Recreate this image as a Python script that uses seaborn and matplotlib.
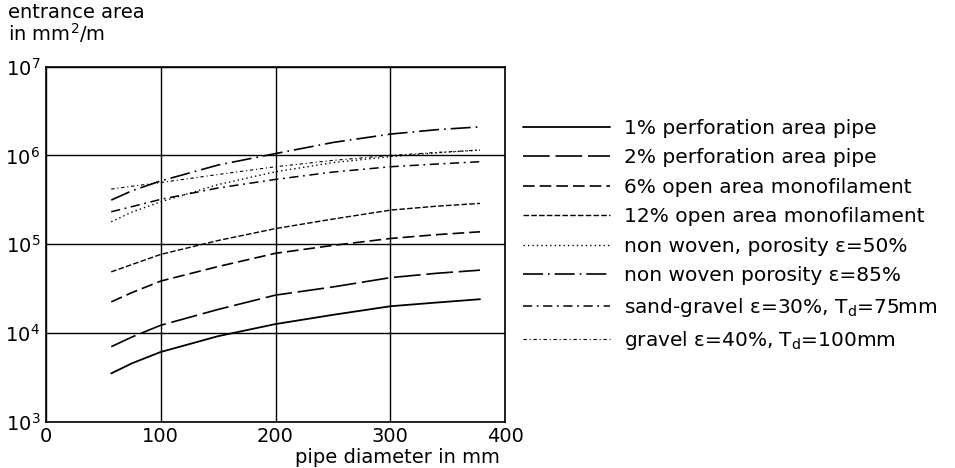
import numpy as np
import pandas as pd
import matplotlib
matplotlib.use("Agg")
import matplotlib.pyplot as plt
import seaborn as sns

# pipe diameter in mm
diameter = [57, 75, 100, 150, 200, 250, 300, 340, 378]

# entrance area in mm2/m per material
perf_1 = [3500, 4550, 6100, 9200, 12600, 16000, 20000, 22000, 24000]
perf_2 = [7000, 9000, 12200, 18400, 26700, 33000, 42000, 47000, 51000]
mono_6 = [22400, 28500, 38400, 56000, 79000, 97000, 116000, 128000, 138000]
mono_12 = [48800, 59000, 76700, 110000, 150000, 192000, 242000, 268000, 288000]
nonwoven_50 = [179000, 230000, 300000, 470000, 655000, 830000, 970000, 1070000, 1150000]
nonwoven_85 = [314000, 400000, 516000, 780000, 1050000, 1400000, 1740000, 1950000, 2100000]
sand_gravel = [232000, 265000, 320000, 430000, 537000, 650000, 746000, 800000, 850000]
gravel = [418000, 450000, 495000, 610000, 746000, 880000, 1000000, 1080000, 1150000]

labels = [
    "1% perforation area pipe",
    "2% perforation area pipe",
    "6% open area monofilament",
    "12% open area monofilament",
    "non woven, porosity \u03b5=50%",
    "non woven porosity \u03b5=85%",
    "sand-gravel \u03b5=30%, T$_\\mathregular{d}$=75mm",
    "gravel \u03b5=40%, T$_\\mathregular{d}$=100mm",
]
series = [perf_1, perf_2, mono_6, mono_12, nonwoven_50, nonwoven_85, sand_gravel, gravel]

# line styles: (linestyle, linewidth)
styles = [
    ("-", 1.3),
    ((0, (16, 3.5)), 1.2),
    ((0, (7, 3)), 1.2),
    ((0, (4, 1.6)), 1.0),
    ((0, (1, 2.2)), 1.0),
    ((0, (12, 3, 1, 3)), 1.2),
    ((0, (6, 3, 1.2, 3)), 1.1),
    ((0, (3, 2.5, 1, 2.5)), 0.8),
]

sns.set_theme(style="white")
plt.rcParams["font.family"] = ["DejaVu Sans"]
plt.rcParams["mathtext.default"] = "regular"
plt.rcParams["text.color"] = "black"

fig = plt.figure(figsize=(9.55, 4.68), dpi=100)
ax = fig.add_axes([0.0479, 0.0989, 0.4812, 0.7586])

for vals, lab, (ls, lw) in zip(series, labels, styles):
    df = pd.DataFrame({"diameter": diameter, "area": vals})
    sns.lineplot(data=df, x="diameter", y="area", ax=ax, color="black",
                 linestyle=ls, linewidth=lw, label=lab, estimator=None)

ax.set_yscale("log")
ax.set_xlim(0, 400)
ax.set_ylim(1e3, 1e7)
ax.set_xticks([0, 100, 200, 300, 400])
ax.set_yticks([1e3, 1e4, 1e5, 1e6, 1e7])
ax.minorticks_off()
ax.tick_params(length=0, labelsize=14, colors="black", pad=4)
ax.grid(True, color="black", linewidth=1.0)
for sp in ax.spines.values():
    sp.set_color("black")
    sp.set_linewidth(1.2)
ax.set_xlabel("")
ax.set_ylabel("")

fig.text(8 / 955, 1 - 3 / 468, "entrance area\nin mm$^2$/m", ha="left", va="top",
         fontsize=14, linespacing=0.95)
fig.text(500 / 955, 1 - 463 / 468, "pipe diameter in mm", ha="right", va="baseline",
         fontsize=14)

ax.legend(loc="upper left", bbox_to_anchor=(523 / 955, 1 - 119 / 468),
          bbox_transform=fig.transFigure, frameon=False, fontsize=14.5,
          borderaxespad=0, borderpad=0, handlelength=4.33, handletextpad=0.7,
          labelspacing=0.52)

fig.savefig("out.png", dpi=100)
